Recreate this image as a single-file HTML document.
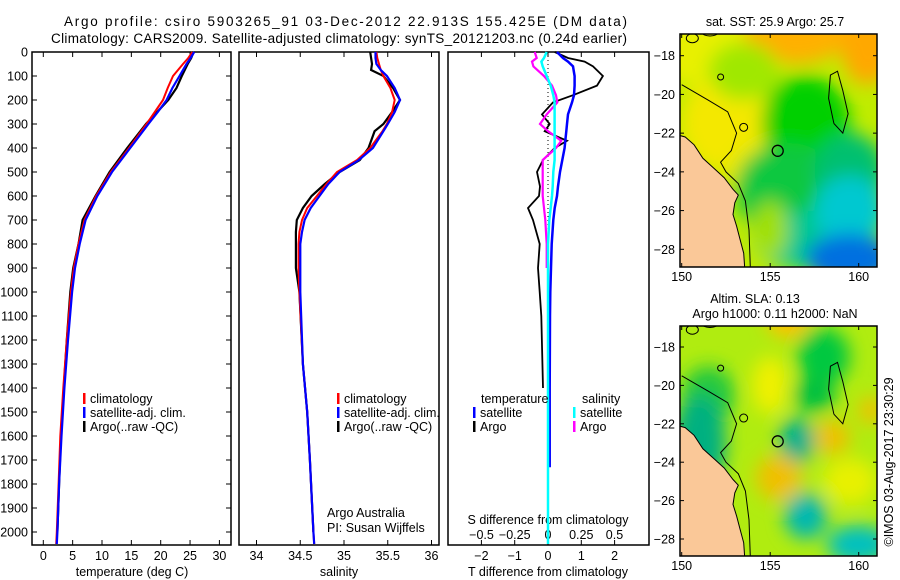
<!DOCTYPE html>
<html><head><meta charset="utf-8">
<style>
html,body{margin:0;padding:0;background:#fff;}
svg{display:block;font-family:"Liberation Sans",sans-serif;}
text{font-size:12.5px;fill:#000;}
.ttl{font-size:13.5px;}
</style></head>
<body>
<svg id="fig" width="900" height="580" viewBox="0 0 900 580">
<defs>
<filter id="bl" x="-50%" y="-50%" width="200%" height="200%"><feGaussianBlur stdDeviation="9"/></filter>
<clipPath id="cm1"><rect x="680" y="34" width="197" height="233"/></clipPath>
<clipPath id="cm2"><rect x="680" y="326" width="197" height="230"/></clipPath>
</defs>
<text class="ttl" x="64" y="26" textLength="563" lengthAdjust="spacing">Argo profile: csiro 5903265_91 03-Dec-2012 22.913S 155.425E (DM data)</text>
<text class="ttl" x="51" y="43" textLength="576" lengthAdjust="spacing">Climatology: CARS2009. Satellite-adjusted climatology: synTS_20121203.nc (0.24d earlier)</text>
<g id="panels"></g>
<g id="maps"></g>
<text transform="translate(893,462) rotate(-90)" text-anchor="middle">©IMOS 03-Aug-2017 23:30:29</text>
</svg>
<script>
// ---- data ----
const depthT = [0,25,50,100,150,200,250,300,400,500,600,700,800,900,1000,1200,1400,1600,1800,2000,2050];
const tempClim = [25.4,24.7,23.8,22.1,21.2,20.4,19.0,17.6,14.6,11.5,9.0,7.0,6.0,5.2,4.7,4.0,3.4,2.9,2.6,2.3,2.2];
const tempSat  = [25.7,25.1,24.4,23.2,22.0,21.0,19.5,17.9,14.8,11.7,9.2,7.2,6.2,5.4,4.9,4.2,3.6,3.1,2.7,2.4,2.3];
const tempArgo = [25.6,25.2,24.6,23.6,22.7,21.3,19.4,17.5,14.3,11.3,8.9,6.7,6.0,5.1,4.6,4.0,3.5,3.0,2.7,2.4,null];
const depthS = [0,25,50,75,100,150,200,250,300,330,400,450,500,550,600,650,700,750,800,900,1000,1300,1500,1700,2000,2050];
const salClim = [35.37,35.38,35.40,35.42,35.45,35.53,35.58,35.55,35.49,35.44,35.30,35.15,34.92,34.80,34.69,34.58,34.52,34.49,34.48,34.48,34.49,34.53,34.58,34.61,34.65,34.66];
const salSat  = [35.36,35.36,35.37,35.42,35.49,35.58,35.64,35.58,35.50,35.45,35.33,35.17,34.95,34.82,34.72,34.62,34.55,34.52,34.50,34.50,34.50,34.53,34.58,34.61,34.65,34.66];
const salArgo = [35.30,35.31,35.32,35.31,35.45,35.56,35.64,35.55,35.45,35.35,35.28,35.18,34.95,34.78,34.63,34.53,34.46,34.45,34.45,34.45,34.49,34.53,34.58,34.61,34.65,null];
const depthD = [0,25,40,60,100,140,180,210,260,300,330,370,400,450,500,560,600,650,700,800,900,1000,1100,1400,1500,1730,2050];
const dTArgo = [0.2,0.6,1.1,1.35,1.65,1.47,0.75,0.15,-0.18,0.05,-0.1,0.57,0.2,-0.15,-0.33,-0.24,-0.27,-0.6,-0.45,-0.25,-0.3,-0.25,-0.2,-0.15,null,null,null];
const dTSat  = [0.27,0.45,0.6,0.75,0.8,0.8,0.78,0.72,0.6,0.57,0.55,0.52,0.5,0.43,0.36,0.3,0.27,0.2,0.16,0.11,0.09,0.07,0.06,0.05,0.05,0.05,null];
const dSArgo = [-0.1,-0.085,-0.12,-0.11,-0.03,0.03,0.06,0.07,-0.01,-0.06,0.0,0.1,0.06,-0.04,-0.04,-0.04,-0.04,-0.03,-0.02,-0.01,-0.01,null,null,null,null,null,null];
const dSSat  = [-0.01,-0.03,-0.05,-0.04,-0.01,0.02,0.04,0.05,0.05,0.05,0.05,0.05,0.05,0.05,0.04,0.035,0.03,0.02,0.01,0.0,0.0,0.0,0.0,0.0,0.0,0.0,0.0];
const depthTicks = [0,100,200,300,400,500,600,700,800,900,1000,1100,1200,1300,1400,1500,1600,1700,1800,1900,2000];
const tempTicks = [0,5,10,15,20,25,30];
const salTicks = [34,34.5,35,35.5,36];
const salTickLabels = ["34","34.5","35","35.5","36"];
const dTTicks = [-2,-1,0,1,2];
const dSTicks = [-0.5,-0.25,0,0.25,0.5];
const dSTickLabels = ["−0.5","−0.25","0","0.25","0.5"];
const latTicks = [-18,-20,-22,-24,-26,-28];
const lonTicks = [150,155,160];

// ---- scales ----
const NS="http://www.w3.org/2000/svg";
const Y0=52, Y1=545;
const yD = d => Y0 + 0.24*d;
const xT = t => 43.3 + 5.87*t;
const xS = s => 256.5 + 87.5*(s-34);
const xDT = v => 548 + 33.3*v;
const xDS = v => 548 + 133*v;

function mk(tag, attrs, parent){const e=document.createElementNS(NS,tag);for(const k in attrs)e.setAttribute(k,attrs[k]);(parent||document.getElementById('panels')).appendChild(e);return e;}
function txt(x,y,s,anchor,parent){const e=mk('text',{x:x,y:y,'text-anchor':anchor||'middle'},parent);e.textContent=s;return e;}
function line(depths, vals, xf, color, w){
  let d='', pen=false;
  for(let i=0;i<depths.length;i++){
    if(vals[i]===null){pen=false;continue;}
    d += (pen?'L':'M') + xf(vals[i]).toFixed(1)+' '+yD(depths[i]).toFixed(1)+' ';
    pen=true;
  }
  return mk('path',{d:d,fill:'none',stroke:color,'stroke-width':w});
}
const P=document.getElementById('panels');
const boxes=[[32,231],[239,439],[448,649]];
boxes.forEach((b,i)=>{
  const r=mk('rect',{x:b[0],y:Y0,width:b[1]-b[0],height:Y1-Y0,fill:'none',stroke:'#000','stroke-width':1.5});
  
  
});
// depth axis
depthTicks.forEach(d=>{
  const y=yD(d);
  mk('line',{x1:32,y1:y,x2:37,y2:y,stroke:'#000'});
  mk('line',{x1:226,y1:y,x2:231,y2:y,stroke:'#000'});
  const t=txt(28,y+4.5,String(d),'end');
  
  
});
function xticks(ticks,labels,xf,labelY){
  ticks.forEach((v,i)=>{
    const x=xf(v);
    mk('line',{x1:x,y1:Y0,x2:x,y2:Y0+5,stroke:'#000'});
    mk('line',{x1:x,y1:Y1,x2:x,y2:Y1-5,stroke:'#000'});
    const t=txt(x,labelY,labels[i]);
    
    
  });
}
xticks(tempTicks,tempTicks.map(String),xT,560);
xticks(salTicks,salTickLabels,xS,560);
xticks(dTTicks,dTTicks.map(v=>v<0?'−'+(-v):String(v)),xDT,560);
dSTicks.forEach((v,i)=>{const t=txt(xDS(v),539,dSTickLabels[i]);});
let t;
t=txt(132,576,'temperature (deg C)');
t=txt(339,576,'salinity');
t=txt(548,576,'T difference from climatology');
t=txt(548,524,'S difference from climatology');

// series
let s;
s=line(depthT,tempArgo,xT,'#000',2.2);
s=line(depthT,tempClim,xT,'#f00',2);
s=line(depthT,tempSat,xT,'#00f',2.2);
s=line(depthS,salArgo,xS,'#000',2.2);
s=line(depthS,salClim,xS,'#f00',2);
s=line(depthS,salSat,xS,'#00f',2.2);
mk('line',{x1:548,y1:Y0,x2:548,y2:Y1,stroke:'#000','stroke-dasharray':'1 3'});
s=line(depthD,dTArgo,xDT,'#000',1.8);
s=line(depthD,dTSat,xDT,'#00f',2.5);
s=line(depthD,dSArgo,xDS,'#f0f',2.2);
s=line(depthD,dSSat,xDS,'#0ff',2.5);

// legends
function leg(x,y,color,label){
  if(color) mk('rect',{x:x,y:y-10,width:2.5,height:11,fill:color});
  const e=txt(x+7,y,label,'start');
  
  
}
leg(83,403,'#f00','climatology');leg(83,417,'#00f','satellite-adj. clim.');leg(83,431,'#000','Argo(..raw -QC)');
leg(337,403,'#f00','climatology');leg(337,417,'#00f','satellite-adj. clim.');leg(337,431,'#000','Argo(..raw -QC)');
leg(474,403,null,'temperature');leg(473,417,'#00f','satellite');leg(473,431,'#000','Argo');
leg(575,403,null,'salinity');leg(573,417,'#0ff','satellite');leg(573,431,'#f0f','Argo');
t=txt(327,517,'Argo Australia','start');
t=txt(327,532,'PI: Susan Wijffels','start');

// ---- maps ----
const M=document.getElementById('maps');
function map(top,bot,lat18y,pxPerLat,clip,blobs,base,name,titles){
  const xL = lon => 681.7 + 17.7*(lon-150);
  const yL = lat => lat18y + pxPerLat*(-18-lat);
  const g=mk('g',{'clip-path':'url(#'+clip+')'},M);
  
  
  mk('rect',{x:680,y:top,width:197,height:bot-top,fill:base},g);
  const bg=mk('g',{filter:'url(#bl)'},g);
  blobs.forEach(b=>mk('ellipse',{cx:xL(b[0]),cy:yL(b[1]),rx:b[2]*17.7,ry:b[3]*pxPerLat,fill:b[4]},bg));
  const coast=[[149,-21.9],[150.2,-22.2],[150.7,-22.6],[151.2,-23.3],[151.8,-23.8],[152.4,-24.3],[152.9,-24.9],[153.2,-25.2],[153.0,-25.6],[152.9,-26.2],[153.1,-26.8],[153.3,-27.5],[153.5,-28.2],[153.6,-29.5],[149,-29.5]];
  const land=mk('path',{d:'M'+coast.map(p=>xL(p[0]).toFixed(1)+' '+yL(p[1]).toFixed(1)).join('L')+'Z',fill:'#fac898',stroke:'#000','stroke-width':1},g);
  
  
  const iso=[[150,-19.5],[151.5,-20.3],[152.6,-20.9],[153.1,-22.0],[152.8,-22.9],[152.2,-23.5],[152.5,-24.0],[153.2,-24.6],[153.6,-25.5],[153.8,-27.0],[153.9,-29.5]];
  mk('path',{d:'M'+iso.map(p=>xL(p[0]).toFixed(1)+' '+yL(p[1]).toFixed(1)).join('L'),fill:'none',stroke:'#000','stroke-width':1},g);
  const ridge=[[158.6,-21.5],[158.3,-20.2],[158.4,-19.0],[158.8,-18.8],[159.1,-19.8],[159.4,-21.0],[159.1,-22.0],[158.6,-21.5]];
  mk('path',{d:'M'+ridge.map(p=>xL(p[0]).toFixed(1)+' '+yL(p[1]).toFixed(1)).join('L'),fill:'none',stroke:'#000','stroke-width':1},g);
  mk('ellipse',{cx:xL(151.6),cy:yL(-16.8),rx:8,ry:3.5,fill:'none',stroke:'#000'},g);
  mk('ellipse',{cx:xL(150.6),cy:yL(-17.1),rx:6,ry:4.5,fill:'none',stroke:'#000'},g);
  mk('circle',{cx:xL(152.2),cy:yL(-19.1),r:3,fill:'none',stroke:'#000'},g);
  mk('circle',{cx:xL(153.5),cy:yL(-21.7),r:4,fill:'none',stroke:'#000'},g);
  const pos=mk('circle',{cx:xL(155.425),cy:yL(-22.913),r:5.5,fill:'none',stroke:'#000','stroke-width':1.3},g);
  
  
  const fr=mk('rect',{x:680,y:top,width:197,height:bot-top,fill:'none',stroke:'#000','stroke-width':1.5},M);
  
  
  latTicks.forEach(l=>{
    const y=yL(l);
    mk('line',{x1:680,y1:y,x2:684,y2:y,stroke:'#000'},M);
    mk('line',{x1:873,y1:y,x2:877,y2:y,stroke:'#000'},M);
    const e=txt(675,y+4.5,'−'+(-l),'end',M);
    
    
  });
  lonTicks.forEach(l=>{
    const x=xL(l);
    mk('line',{x1:x,y1:top,x2:x,y2:top+4,stroke:'#000'},M);
    mk('line',{x1:x,y1:bot,x2:x,y2:bot-4,stroke:'#000'},M);
    const e=txt(x,bot+14,String(l),'middle',M);
    
    
  });
  titles.forEach((tt,i)=>{const e=txt(tt[1],tt[2],tt[0],'middle',M);});
}
map(34,267,55.7,19.36,'cm1',[
  [151,-17,3,2.5,'#e8f000'],[156.5,-16.8,3,1.6,'#ffb000'],[160.5,-17.5,1.5,2,'#ffa800'],
  [152.5,-21.5,2.5,2.5,'#f4e800'],[154,-24,1.5,1.5,'#e8e800'],[153.5,-18.8,2,1.5,'#a0e800'],
  [157,-21.5,2.5,2.5,'#00d000'],[156,-25,3,2.5,'#10c840'],[159.5,-24,2,2,'#00c070'],
  [156.5,-27.5,2.5,1.5,'#00c890'],[159.5,-26,2,1.8,'#00c8d0'],[159.5,-28.5,2.5,1.3,'#0070e0'],[155,-27,1,1.5,'#a0e000']
],'#c0ec00','sst-map',[['sat. SST: 25.9 Argo: 25.7',775,26]]);
map(326,556,347,19.2,'cm2',[
  [156,-16.5,1.2,1,'#ffc000'],[158,-18.5,1.5,1.5,'#00c840'],[151.5,-20.5,1.5,1.5,'#20c840'],
  [151,-23,1.5,2.5,'#00b080'],[156.5,-22.9,1,1.2,'#00b090'],[157,-26.8,1.2,1.2,'#00b8b0'],[160,-28.3,1.8,1,'#00c0c0'],
  [155.5,-24.8,1.3,1.2,'#f0c000'],[158.5,-22.7,1,0.9,'#f0c000'],[160.7,-21.3,0.7,0.7,'#f0c000'],
  [157.5,-20.5,1.2,0.9,'#00c040'],[159.5,-25,1.5,1.2,'#e8f000'],[155,-20,1,1.5,'#f0f000']
],'#b0ec10','sla-map',[['Altim. SLA: 0.13',755,303],['Argo h1000: 0.11 h2000: NaN',775,318]]);
</script>
</body></html>
